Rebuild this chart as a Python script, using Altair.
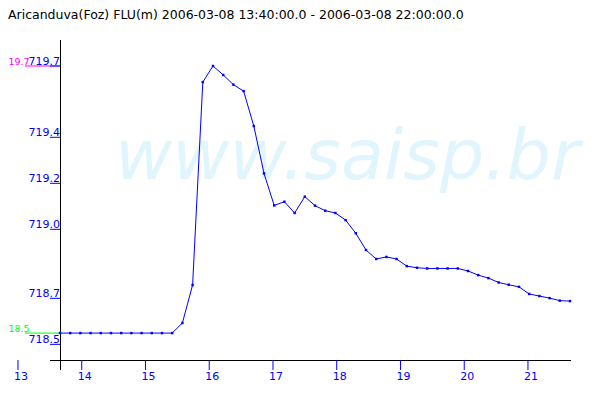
import altair as alt
import pandas as pd

title_text = "Aricanduva(Foz) FLU(m) 2006-03-08 13:40:00.0 - 2006-03-08 22:00:00.0"
watermark = "www.saisp.br"

times = [
    "13:40", "13:50", "14:00", "14:10", "14:20", "14:30", "14:40", "14:50",
    "15:00", "15:10", "15:20", "15:30", "15:40", "15:50", "16:00", "16:10",
    "16:20", "16:30", "16:40", "16:50", "17:00", "17:10", "17:20", "17:30",
    "17:40", "17:50", "18:00", "18:10", "18:20", "18:30", "18:40", "18:50",
    "19:00", "19:10", "19:20", "19:30", "19:40", "19:50", "20:00", "20:10",
    "20:20", "20:30", "20:40", "20:50", "21:00", "21:10", "21:20", "21:30",
    "21:40", "21:50", "22:00",
]
levels = [
    718.539, 718.539, 718.539, 718.539, 718.539, 718.539, 718.539, 718.539,
    718.539, 718.539, 718.539, 718.539, 718.583, 718.748, 719.630, 719.700,
    719.661, 719.619, 719.591, 719.439, 719.233, 719.094, 719.110, 719.061,
    719.132, 719.093, 719.071, 719.061, 719.030, 718.973, 718.900, 718.861,
    718.870, 718.861, 718.830, 718.823, 718.820, 718.820, 718.820, 718.820,
    718.809, 718.791, 718.778, 718.759, 718.749, 718.740, 718.709, 718.700,
    718.691, 718.680, 718.678,
]

x_tick_pos = [12.980, 14.022, 15.063, 16.105, 17.147, 18.188, 19.230, 20.272, 21.313]
x_tick_labels = ["13", "14", "15", "16", "17", "18", "19", "20", "21"]
y_tick_vals = [719.70, 719.39, 719.19, 718.99, 718.69, 718.49]
y_tick_labels = ["719.7", "719.4", "719.2", "719.0", "718.7", "718.5"]

BLUE = "#0000ff"
FONT = "DejaVu Sans"


def to_hours(t):
    h, m = t.split(":")
    return int(h) + int(m) / 60.0


df = pd.DataFrame({"hour": [to_hours(t) for t in times], "level": levels})
xt = pd.DataFrame({"pos": x_tick_pos, "label": x_tick_labels})
yt = pd.DataFrame({"val": y_tick_vals, "label": y_tick_labels})
one = pd.DataFrame({"t": [title_text], "w": [watermark]})

xs = alt.Scale(domain=[to_hours(times[0]), to_hours(times[-1])], nice=False, zero=False)
ys = alt.Scale(domain=[718.422, 719.813], nice=False, zero=False)

wm = alt.Chart(one).mark_text(
    font=FONT, fontSize=70, fontStyle="italic", color="#e1f5fd",
    align="left", baseline="alphabetic"
).encode(x=alt.value(55), y=alt.value(139), text="w:N")

title = alt.Chart(one).mark_text(
    font=FONT, fontSize=12.5, color="black", align="left", baseline="top"
).encode(x=alt.value(-52), y=alt.value(-31), text="t:N")

y_line = alt.Chart(one).mark_rule(color="black", strokeWidth=1).encode(
    x=alt.value(0.5), y=alt.value(0), y2=alt.value(330)
)
x_line = alt.Chart(one).mark_rule(color="black", strokeWidth=1).encode(
    x=alt.value(-10), x2=alt.value(511), y=alt.value(320.5)
)

x_ticks = alt.Chart(xt).mark_rule(color=BLUE, strokeWidth=1).encode(
    x=alt.X("pos:Q", scale=xs, axis=None), y=alt.value(320), y2=alt.value(330)
)
x_labels = alt.Chart(xt).mark_text(
    font=FONT, fontSize=11, color=BLUE, align="center", dx=3, baseline="alphabetic"
).encode(x=alt.X("pos:Q", scale=xs, axis=None), y=alt.value(340), text="label:N")

y_ticks = alt.Chart(yt).mark_rule(color=BLUE, strokeWidth=1).encode(
    y=alt.Y("val:Q", scale=ys, axis=None), x=alt.value(-10), x2=alt.value(0)
)
y_labels = alt.Chart(yt).mark_text(
    font=FONT, fontSize=11, color=BLUE, align="right", dy=-1, baseline="alphabetic"
).encode(y=alt.Y("val:Q", scale=ys, axis=None), x=alt.value(0), text="label:N")

ext_base = alt.Chart(df).transform_aggregate(
    vmax="max(level)", vmin="min(level)"
).transform_fold(["vmax", "vmin"], as_=["kind", "v"]).transform_calculate(
    lab="substring(format(datum.v, '.1f'), 1)"
)
ext_color = alt.Color(
    "kind:N", scale=alt.Scale(domain=["vmax", "vmin"], range=["#ff00ff", "#00ff00"]), legend=None
)
ext_rules = ext_base.mark_rule(strokeWidth=1).encode(
    y=alt.Y("v:Q", scale=ys, axis=None), x=alt.value(-35), x2=alt.value(0), color=ext_color
)
ext_text = ext_base.mark_text(
    font=FONT, fontSize=9.5, align="left", dy=-1, baseline="alphabetic"
).encode(y=alt.Y("v:Q", scale=ys, axis=None), x=alt.value(-51.5), text="lab:N", color=ext_color)

line = alt.Chart(df).mark_line(color=BLUE, strokeWidth=1).encode(
    x=alt.X("hour:Q", scale=xs, axis=None), y=alt.Y("level:Q", scale=ys, axis=None)
)
pts = alt.Chart(df).mark_square(color=BLUE, size=6, opacity=1).encode(
    x=alt.X("hour:Q", scale=xs, axis=None), y=alt.Y("level:Q", scale=ys, axis=None)
)

chart = alt.layer(
    wm, title, ext_rules, ext_text, y_line, x_line, x_ticks, x_labels,
    y_ticks, y_labels, line, pts
).properties(
    width=510, height=320,
    autosize=alt.AutoSizeParams(type="none"),
    padding={"left": 52, "top": 32, "right": 20, "bottom": 24},
).configure_view(strokeWidth=0)

chart.save("out.html", embed_options={"renderer": "svg", "actions": False})
